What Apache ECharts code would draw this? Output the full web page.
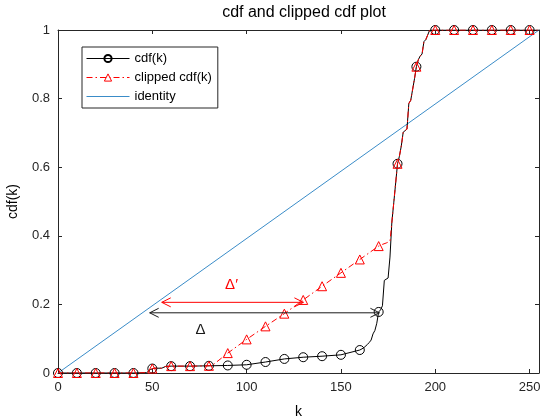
<!DOCTYPE html>
<html>
<head>
<meta charset="utf-8">
<script src="https://cdn.jsdelivr.net/npm/echarts@6/dist/echarts.min.js"></script>
<style>
html,body{margin:0;padding:0;background:#fff;}
#c{width:541px;height:419px;}
</style>
</head>
<body>
<div id="c"></div>
<script>
// ---- data ----
const cdfK = [0,10,20,30,40,47,48,49,50,51,55,56,57,60,70,80,90,100,110,120,130,140,150,
  160,161,162,163,164,165,166,167,168,169,170,171,172,173,174,175,176,177,178,179,
  180,181,182,183,184,185,186,187,188,189,190,191,192,193,194,195,196,197,198,199,
  200,210,220,230,240,250,255];
const cdfV = [0,0,0,0,0,0.001,0.003,0.010,0.013,0.014,0.014,0.017,0.019,0.020,0.020,0.021,0.022,0.024,0.032,0.041,0.046,0.049,0.053,
  0.067,0.070,0.073,0.077,0.083,0.089,0.096,0.114,0.124,0.145,0.178,0.184,0.196,0.270,0.273,0.277,0.338,0.440,0.496,0.501,
  0.610,0.632,0.662,0.702,0.706,0.711,0.786,0.795,0.799,0.858,0.893,0.913,0.924,0.930,0.966,0.972,0.976,0.999,1,1,
  1,1,1,1,1,1,1];

const clipK = [0,10,20,30,40,47,48,49,50,51,55,56,57,60,70,80,82,90,100,110,120,130,140,150,160,170,
  171,172,173,174,175,176,177,178,179,
  180,181,182,183,184,185,186,187,188,189,190,191,192,193,194,195,196,197,198,199,
  200,210,220,230,240,250,255];
const clipV = [0,0,0,0,0,0.001,0.003,0.010,0.013,0.014,0.014,0.017,0.019,0.020,0.020,0.021,0.023,0.058,0.098,0.136,0.173,0.213,0.253,0.292,0.331,0.370,
  0.373,0.375,0.377,0.379,0.381,0.384,0.440,0.496,0.501,
  0.610,0.632,0.662,0.702,0.706,0.711,0.786,0.795,0.799,0.858,0.893,0.913,0.924,0.930,0.966,0.972,0.976,0.999,1,1,
  1,1,1,1,1,1,1];

const identityK = [0,255];
const identityV = [0,1];

const xTicks = [0,50,100,150,200,250];
const yTicks = [0,0.2,0.4,0.6,0.8,1];

// annotation arrows (data coordinates)
const arrowLeftK  = [55, 48.6];
const arrowRightK = [130.1, 170.4];
const arrowLevel  = [0.206, 0.1755];
const arrowLabel  = ['\u0394\u2032', '\u0394'];
const labelK = [92, 75.6];
const labelV = [0.256, 0.125];

const legendNames = ['cdf(k)', 'clipped cdf(k)', 'identity'];
const titleText = 'cdf and clipped cdf plot';

// ---- styling ----
const AX = '#262626';
const RED = '#ff0000';
const BLUE = '#3a8cc8';
const arrowColors = ['#ff0000', '#1a1a1a'];
const markerStep = 10;
const FONT = 'Liberation Sans, Arial, sans-serif';

function withMarkers(ks, vs, sym) {
  return ks.map((k, i) => ({
    value: [k, vs[i]],
    symbol: (k % markerStep === 0 && k <= 250) ? sym : 'none'
  }));
}

const chart = echarts.init(document.getElementById('c'), null, {renderer: 'canvas'});

const axisCommon = {
  type: 'value',
  axisLine: {show: true, onZero: false, lineStyle: {color: AX, width: 1}},
  axisTick: {show: true, inside: true, length: 4, lineStyle: {color: AX, width: 1}},
  splitLine: {show: false},
  animation: false
};

const option = {
  animation: false,
  backgroundColor: '#ffffff',
  title: {
    text: titleText,
    left: 299, top: 0,
    textAlign: 'center',
    textStyle: {fontFamily: FONT, fontSize: 16, fontWeight: 'normal', color: '#000'}
  },
  legend: {
    data: [
      {name: legendNames[0]},
      {name: legendNames[1], itemStyle: {color: '#ffffff', borderColor: RED, borderWidth: 1}},
      {name: legendNames[2], itemStyle: {opacity: 0}}
    ],
    orient: 'vertical',
    left: 82, top: 47,
    itemWidth: 43, itemHeight: 9, itemGap: 6,
    padding: [5, 6, 5, 4],
    backgroundColor: '#ffffff',
    borderColor: AX, borderWidth: 1, borderRadius: 0,
    lineStyle: {width: 1},
    textStyle: {fontFamily: FONT, fontSize: 13, color: '#000'},
    selectedMode: false
  },
  grid: {left: 58, right: 2, top: 30, bottom: 46, containLabel: false, outerBoundsMode: 'none'},
  xAxis: [
    Object.assign({}, axisCommon, {
      min: 0, max: 255, interval: 50, position: 'bottom',
      name: 'k', nameLocation: 'middle', nameGap: 32,
      nameTextStyle: {fontFamily: FONT, fontSize: 14, color: '#000'},
      axisLabel: {
        margin: 8, fontFamily: FONT, fontSize: 13, color: AX,
        formatter: v => (xTicks.indexOf(v) >= 0 ? String(v) : '')
      }
    }),
    Object.assign({}, axisCommon, {
      min: 0, max: 255, interval: 50, position: 'top',
      axisLabel: {show: false}
    })
  ],
  yAxis: [
    Object.assign({}, axisCommon, {
      min: 0, max: 1, interval: 0.2, position: 'left',
      name: 'cdf(k)', nameLocation: 'middle', nameGap: 38, nameRotate: 90,
      nameTextStyle: {fontFamily: FONT, fontSize: 14, color: '#000'},
      axisLabel: {
        margin: 8, fontFamily: FONT, fontSize: 13, color: AX,
        formatter: v => {
          const t = yTicks.find(y => Math.abs(y - v) < 1e-9);
          return t === undefined ? '' : String(t);
        }
      }
    }),
    Object.assign({}, axisCommon, {
      min: 0, max: 1, interval: 0.2, position: 'right',
      axisLabel: {show: false}
    })
  ],
  series: [
    {
      name: legendNames[0],
      type: 'line',
      xAxisIndex: 0, yAxisIndex: 0,
      data: withMarkers(cdfK, cdfV, 'circle'),
      symbol: 'circle',
      symbolSize: 9,
      showAllSymbol: true,
      color: '#000000',
      itemStyle: {color: 'rgba(255,255,255,0)', borderColor: '#000000', borderWidth: 1},
      lineStyle: {color: '#000000', width: 1},
      emphasis: {disabled: true},
      z: 2
    },
    {
      name: legendNames[1],
      type: 'line',
      xAxisIndex: 0, yAxisIndex: 0,
      data: withMarkers(clipK, clipV, 'triangle'),
      symbol: 'triangle',
      symbolSize: 9,
      showAllSymbol: true,
      color: RED,
      itemStyle: {color: 'rgba(255,255,255,0)', borderColor: RED, borderWidth: 1},
      lineStyle: {color: RED, width: 1, type: [6, 3, 1.5, 3]},
      emphasis: {disabled: true},
      z: 3
    },
    {
      name: legendNames[2],
      type: 'line',
      xAxisIndex: 0, yAxisIndex: 0,
      data: identityK.map((k, i) => [k, identityV[i]]),
      symbol: 'none',
      color: BLUE,
      lineStyle: {color: BLUE, width: 1},
      emphasis: {disabled: true},
      z: 1
    },
    {
      name: 'arrows',
      type: 'custom',
      xAxisIndex: 0, yAxisIndex: 0,
      silent: true,
      z: 4,
      data: arrowLevel.map((lv, i) => [arrowLeftK[i], arrowRightK[i], lv, labelK[i], labelV[i]]),
      encode: {x: [0, 1, 3], y: [2, 4]},
      renderItem: function (params, api) {
        const i = params.dataIndex;
        const col = arrowColors[i];
        const a = api.coord([api.value(0), api.value(2)]);
        const b = api.coord([api.value(1), api.value(2)]);
        const t = api.coord([api.value(3), api.value(4)]);
        const hl = 9, hw = 4.5;
        const st = {stroke: col, lineWidth: 1, fill: null};
        return {
          type: 'group',
          children: [
            {type: 'line', shape: {x1: a[0], y1: a[1], x2: b[0], y2: b[1]}, style: st},
            {type: 'polyline', shape: {points: [[a[0] + hl, a[1] - hw], [a[0], a[1]], [a[0] + hl, a[1] + hw]]}, style: st},
            {type: 'polyline', shape: {points: [[b[0] - hl, b[1] - hw], [b[0], b[1]], [b[0] - hl, b[1] + hw]]}, style: st},
            {type: 'text', x: t[0], y: t[1],
              style: {text: arrowLabel[i], fill: col, font: '15px ' + FONT, textAlign: 'center', textVerticalAlign: 'middle'}}
          ]
        };
      }
    }
  ]
};

chart.setOption(option);
</script>
</body>
</html>
